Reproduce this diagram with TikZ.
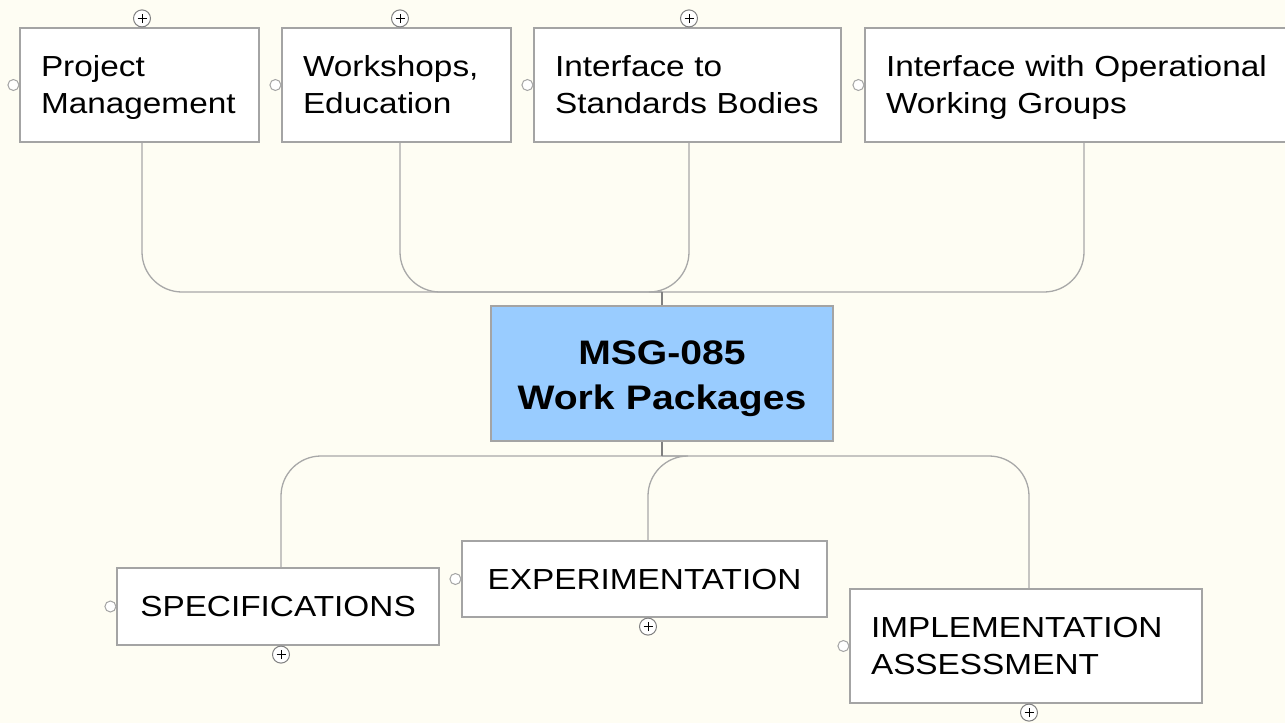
\documentclass[tikz,border=0pt]{standalone}
\usepackage{fontspec}
\setmainfont{Liberation Sans}[FakeStretch=1.15]
\usetikzlibrary{positioning}

\definecolor{paper}{HTML}{FEFDF3}
\definecolor{frame}{HTML}{A4A4A4}
\definecolor{wire}{HTML}{A8A8A8}
\definecolor{hubblue}{HTML}{99CCFF}

\tikzset{
  topic/.style={draw=frame, fill=white, line width=1.2pt, inner xsep=21pt,
    align=left, font=\fontsize{29}{37}\selectfont,
    execute at begin node=\rule{0pt}{32pt}, execute at end node=\strut},
  hubbox/.style={draw=frame, fill=hubblue, line width=1.2pt, align=center,
    text width=320pt, minimum width=342pt, minimum height=135pt,
    font=\fontsize{34}{45}\selectfont\bfseries,
    execute at begin node=\rule{0pt}{41pt}, execute at end node=\strut},
  link/.style={draw=wire, line width=1.3pt, rounded corners=40pt},
  stem/.style={draw=gray, line width=2pt},
  knob/.style={circle, draw=frame, fill=white, line width=1pt, minimum size=11pt, inner sep=0pt},
  expander/.style={circle, draw=gray, fill=white, line width=1pt, minimum size=17pt, inner sep=0pt,
    path picture={\draw[black, line width=1pt]
      ([xshift=-4.5pt]path picture bounding box.center) -- ([xshift=4.5pt]path picture bounding box.center)
      ([yshift=-4.5pt]path picture bounding box.center) -- ([yshift=4.5pt]path picture bounding box.center);}},
}

\begin{document}
\begin{tikzpicture}[x=1pt, y=-1pt]

\fill[paper] (0,0) rectangle (1285,723);
\useasboundingbox (0,0) rectangle (1285,723);

% upper row
\node[topic, text width=197pt, minimum height=114pt] (pm) at (139.5,85) {Project\\Management};
\node[topic, text width=187pt, minimum height=114pt] (ws) at (396.5,85) {Workshops,\\Education};
\node[topic, text width=265pt, minimum height=114pt] (sb) at (687.5,85) {Interface to\\Standards Bodies};
\node[topic, text width=390pt, minimum height=114pt] (og) at (1081,85) {Interface with Operational\\Working Groups};

% centre
\node[hubbox] (hub) at (662,373.5) {MSG-085\\Work Packages};

% lower row
\node[topic, align=center, text width=280pt, minimum height=77pt] (sp) at (278,606.5) {SPECIFICATIONS};
\node[topic, align=center, text width=323pt, minimum height=76pt] (ex) at (644.5,579) {EXPERIMENTATION};
\node[topic, text width=310pt, minimum height=114pt] (ia) at (1026,646) {IMPLEMENTATION\\ASSESSMENT};

% junctions
\coordinate (jt) at (hub.north |- 0,292);
\coordinate (jb) at (hub.south |- 0,456);

\draw[link] ([xshift=2.5pt]pm.south) |- (jt);
\draw[link] ([xshift=3.5pt]ws.south) |- (jt);
\draw[link] ([xshift=1.5pt]sb.south) |- (jt);
\draw[link] ([xshift=3pt]og.south) |- (jt);
\draw[link] ([xshift=3pt]sp.north) |- (jb);
\draw[link] ([xshift=3.5pt]ex.north) |- (jb);
\draw[link] ([xshift=3pt]ia.north) |- (jb);
\draw[stem] (hub.north) -- (jt);
\draw[stem] (hub.south) -- (jb);

% small handles
\foreach \n in {pm,ws,sb,og,sp,ex,ia}
  \node[knob, anchor=east] (\n-k) at (\n.west) {};
\node[expander, anchor=south] (pm-x) at ([xshift=2.5pt]pm.north) {};
\node[expander, anchor=south] (ws-x) at ([xshift=3.5pt]ws.north) {};
\node[expander, anchor=south] (sb-x) at ([xshift=1.5pt]sb.north) {};
\node[expander, anchor=north] (sp-x) at ([xshift=3pt]sp.south) {};
\node[expander, anchor=north] (ex-x) at ([xshift=3.5pt]ex.south) {};
\node[expander, anchor=north] (ia-x) at ([xshift=3pt]ia.south) {};

\end{tikzpicture}
\end{document}
